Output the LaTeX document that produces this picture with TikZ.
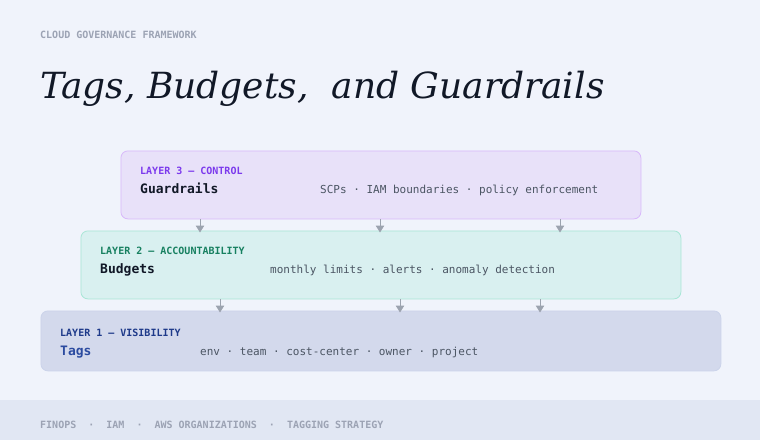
\documentclass[tikz,border=0pt]{standalone}
\usepackage{fontspec}
\setmonofont{DejaVu Sans Mono}
\newfontfamily\titlefont{DejaVu Serif}
\usetikzlibrary{arrows.meta}
\definecolor{bgc}{HTML}{F0F3FB}
\definecolor{footc}{HTML}{E1E7F3}
\definecolor{headc}{HTML}{9CA3B4}
\definecolor{titlec}{HTML}{111827}
\definecolor{darkc}{HTML}{111827}
\definecolor{descc}{HTML}{4B5563}
\definecolor{fillthree}{HTML}{E8E1F9}
\definecolor{drawthree}{HTML}{D8B8FA}
\definecolor{labthree}{HTML}{7C3AED}
\definecolor{filltwo}{HTML}{D9F0F0}
\definecolor{drawtwo}{HTML}{A8E6D6}
\definecolor{labtwo}{HTML}{178060}
\definecolor{fillone}{HTML}{D3D9EC}
\definecolor{drawone}{HTML}{CBD3EA}
\definecolor{labone}{HTML}{1E3A8A}
\definecolor{tagc}{HTML}{2B4BA0}
\definecolor{arrc}{HTML}{9CA3AF}
\tikzset{
  layerbox/.style={rounded corners=7pt, line width=0.8pt, inner sep=0pt, anchor=north west},
  txt/.style={anchor=base west, inner sep=0pt, font=\ttfamily},
  laylabel/.style={txt, font=\ttfamily\bfseries\fontsize{10}{12}\selectfont},
  layname/.style={txt, font=\ttfamily\bfseries\fontsize{13}{15}\selectfont, text=darkc},
  laydesc/.style={txt, font=\ttfamily\fontsize{11}{13}\selectfont, text=descc},
  flow/.style={draw=arrc, line width=1pt, -{Triangle[length=7pt,width=8.5pt]}, shorten >=-2pt}
}
\begin{document}
\begin{tikzpicture}[x=1pt,y=-1pt]
\useasboundingbox (0,0) rectangle (760,440);
\fill[bgc] (0,0) rectangle (760,440);
\fill[footc] (0,400) rectangle (760,440);

\node[txt, font=\ttfamily\bfseries\fontsize{10}{12}\selectfont, text=headc] (head) at (40,38) {CLOUD GOVERNANCE FRAMEWORK};
\node[txt, font=\titlefont\itshape\fontsize{36}{42}\selectfont, text=titlec] (title) at (40,98) {Tags, Budgets,\ \ and Guardrails};

% Layer 3
\node[layerbox, fill=fillthree, draw=drawthree, minimum width=520pt, minimum height=68pt] (box3) at (120.5,150.5) {};
\node[laylabel, text=labthree] (lab3) at (140,174) {LAYER 3 — CONTROL};
\node[layname] (name3) at (140,193) {Guardrails};
\node[laydesc] (desc3) at (320,193) {SCPs · IAM boundaries · policy enforcement};

% Layer 2
\node[layerbox, fill=filltwo, draw=drawtwo, minimum width=600pt, minimum height=68pt] (box2) at (80.5,230.5) {};
\node[laylabel, text=labtwo] (lab2) at (100,254) {LAYER 2 — ACCOUNTABILITY};
\node[layname] (name2) at (100,273) {Budgets};
\node[laydesc] (desc2) at (270,273) {monthly limits · alerts · anomaly detection};

% Layer 1
\node[layerbox, fill=fillone, draw=drawone, minimum width=680pt, minimum height=60pt] (box1) at (40.5,310.5) {};
\node[laylabel, text=labone] (lab1) at (60,336) {LAYER 1 — VISIBILITY};
\node[layname, text=tagc] (name1) at (60,355) {Tags};
\node[laydesc] (desc1) at (200,355) {env · team · cost-center · owner · project};

% Connectors
\foreach \xx in {200,380,560}
  \draw[flow] (box3.south -| \xx,0) -- (box2.north -| \xx,0);
\foreach \xx in {220,400,540}
  \draw[flow] (box2.south -| \xx,0) -- (box1.north -| \xx,0);

\node[txt, font=\ttfamily\bfseries\fontsize{10}{12}\selectfont, text=headc] (foot) at (40,428) {FINOPS\ \ ·\ \ IAM\ \ ·\ \ AWS ORGANIZATIONS\ \ ·\ \ TAGGING STRATEGY};
\end{tikzpicture}
\end{document}
